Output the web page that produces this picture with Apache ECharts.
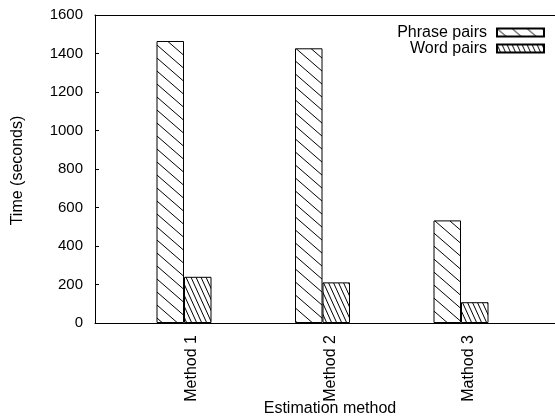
<!DOCTYPE html>
<html>
<head>
<meta charset="utf-8">
<script src="https://cdn.jsdelivr.net/npm/echarts@6/dist/echarts.min.js"></script>
<style>
html,body{margin:0;padding:0;background:#fff;}
#chart{width:555px;height:417px;}
</style>
</head>
<body>
<div id="chart"></div>
<script>
var categories = ['Method 1', 'Method 2', 'Mathod 3'];
var phrasePairs = [1465, 1427, 533];
var wordPairs = [240, 211, 108];
var yTicks = [0, 200, 400, 600, 800, 1000, 1200, 1400, 1600];

var FONT = '"Liberation Sans", Arial, sans-serif';

function makeHatch(w, h) {
  var c = document.createElement('canvas');
  c.width = w; c.height = h;
  var ctx = c.getContext('2d');
  ctx.fillStyle = '#fff';
  ctx.fillRect(0, 0, w, h);
  ctx.strokeStyle = '#000';
  ctx.lineWidth = 1;
  var s = h / w;
  [-w, 0, w].forEach(function (dx) {
    ctx.beginPath();
    ctx.moveTo(dx - 2, -2 * s);
    ctx.lineTo(dx + w + 2, h + 2 * s);
    ctx.stroke();
  });
  return c;
}

var phrasePattern = { image: makeHatch(15, 13), repeat: 'repeat' };
var wordPattern = { image: makeHatch(5, 11), repeat: 'repeat' };

var chart = echarts.init(document.getElementById('chart'), null, { renderer: 'canvas' });

var option = {
  animation: false,
  backgroundColor: '#fff',
  textStyle: { fontFamily: FONT },
  grid: [
    { left: 95, right: 0, top: 15, bottom: 94 },
    { left: 114.75, right: 24.75, top: 15, bottom: 94 }
  ],
  legend: {
    orient: 'vertical',
    right: 5,
    top: 19.5,
    align: 'right',
    icon: 'rect',
    itemWidth: 47,
    itemHeight: 8,
    itemGap: 0,
    textStyle: { fontFamily: FONT, fontSize: 16, color: '#000', lineHeight: 14.5, padding: [0, 5, 0, 0] },
    data: ['Phrase pairs', 'Word pairs']
  },
  xAxis: [
    {
      gridIndex: 0, type: 'value', min: 0, max: 1, position: 'bottom',
      axisLine: { show: true, lineStyle: { color: '#000', width: 1 } },
      axisTick: { show: false }, axisLabel: { show: false }, splitLine: { show: false }
    },
    {
      gridIndex: 0, type: 'value', min: 0, max: 1, position: 'top',
      axisLine: { show: true, lineStyle: { color: '#000', width: 1 } },
      axisTick: { show: false }, axisLabel: { show: false }, splitLine: { show: false }
    },
    {
      gridIndex: 1, type: 'category', data: categories,
      axisLine: { show: false }, axisTick: { show: false }, splitLine: { show: false },
      axisLabel: {
        rotate: 90, margin: 12, verticalAlign: 'top',
        fontFamily: FONT, fontSize: 16, color: '#000'
      }
    }
  ],
  yAxis: [
    {
      gridIndex: 0, type: 'value', min: 0, max: 1600, interval: 200,
      axisLine: { show: true, lineStyle: { color: '#000', width: 1 } },
      axisTick: { show: true, inside: true, length: 4, lineStyle: { color: '#000' } },
      axisLabel: { margin: 12, fontFamily: FONT, fontSize: 15, color: '#000',
        formatter: function (v) { return yTicks.indexOf(v) >= 0 ? String(v) : ''; } },
      splitLine: { show: false }
    },
    {
      gridIndex: 1, type: 'value', min: 0, max: 1600,
      show: false
    }
  ],
  series: [
    {
      name: 'Phrase pairs', type: 'bar', xAxisIndex: 2, yAxisIndex: 1,
      data: phrasePairs, barWidth: 27.5, barGap: '0%',
      itemStyle: { color: phrasePattern, borderColor: '#000', borderWidth: 1 }
    },
    {
      name: 'Word pairs', type: 'bar', xAxisIndex: 2, yAxisIndex: 1,
      data: wordPairs, barWidth: 27.5, barGap: '0%',
      itemStyle: { color: wordPattern, borderColor: '#000', borderWidth: 1 }
    }
  ],
  graphic: [
    {
      type: 'text', x: 18, y: 170.5, rotation: Math.PI / 2,
      style: { text: 'Time (seconds)', fontFamily: FONT, fontSize: 16, fill: '#000',
        align: 'center', verticalAlign: 'middle' }
    },
    {
      type: 'text', x: 330, y: 409,
      style: { text: 'Estimation method', fontFamily: FONT, fontSize: 16, fill: '#000',
        align: 'center', verticalAlign: 'middle' }
    }
  ]
};

chart.setOption(option);
</script>
</body>
</html>
